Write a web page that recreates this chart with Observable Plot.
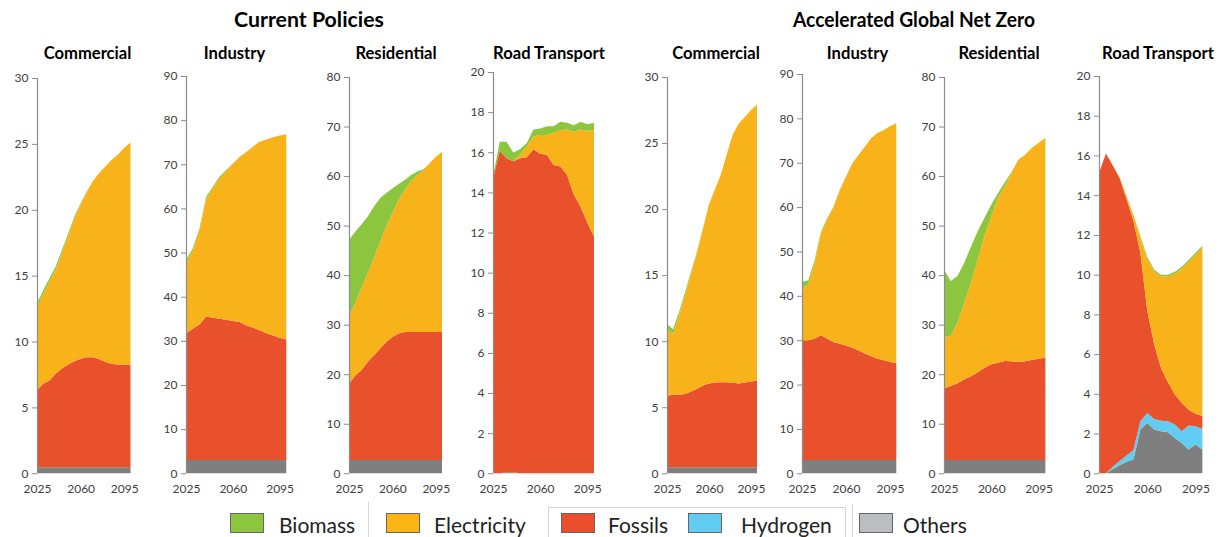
<!DOCTYPE html>
<html><head><meta charset="utf-8">
<script src="https://cdn.jsdelivr.net/npm/d3@7"></script>
<script src="https://cdn.jsdelivr.net/npm/@observablehq/plot@0.6"></script>
<style>
body{margin:0;background:#fff;}
#root{position:relative;width:1221px;height:537px;overflow:hidden;background:#fff;font-family:Lato,"Open Sans",sans-serif;}
.abs{position:absolute;}
.scen{font-weight:700;font-size:21px;color:#000;white-space:nowrap;}
.ptitle{font-weight:700;font-size:16.6px;color:#000;transform:translate(-50%,-50%);white-space:nowrap;}
.lbox{border:1px solid #666;box-sizing:border-box;}
.ltext{font-size:21px;color:#222;transform:translateY(-50%);white-space:nowrap;}
.sep{background:#d4d4d4;}
</style></head><body><div id="root"></div>
<script>
// ---------------- data ----------------
const years = [2025,2030,2035,2040,2045,2050,2055,2060,2065,2070,2075,2080,2085,2090,2095,2100];
const scenarioTitles = ["Current Policies", "Accelerated Global Net Zero"];
const panelTitles = ["Commercial","Industry","Residential","Road Transport","Commercial","Industry","Residential","Road Transport"];
const seriesNames = ["Biomass","Electricity","Fossils","Hydrogen","Others"];
const stackOrder = ["Others","Hydrogen","Fossils","Electricity","Biomass"];
const yMax = [30,90,80,20,30,90,80,20];
const yStep = [5,10,10,2,5,10,10,2];
const xTicks = [2025,2060,2095];

// Current Policies - Commercial
const cpComOthers   = [0.45,0.45,0.45,0.45,0.45,0.45,0.45,0.45,0.45,0.45,0.45,0.45,0.45,0.45,0.45,0.45];
const cpComFossils  = [5.85,6.35,6.6,7.1,7.5,7.8,8.05,8.25,8.35,8.35,8.2,8.0,7.85,7.8,7.8,7.75];
const cpComElec     = [6.3,6.8,7.5,7.9,8.8,9.75,10.85,11.7,12.55,13.4,14.15,14.85,15.5,15.95,16.45,16.9];
const cpComBiomass  = [0.3,0.3,0.25,0.25,0.2,0.2,0.15,0.1,0.05,0,0,0,0,0,0,0];
// Current Policies - Industry
const cpIndOthers   = [3,3,3,3,3,3,3,3,3,3,3,3,3,3,3,3];
const cpIndFossils  = [28.6,29.75,30.7,32.5,32.25,32.0,31.8,31.5,31.3,30.5,30.0,29.4,28.8,28.2,27.7,27.3];
const cpIndElec     = [16.1,17.55,21.2,26.6,29.25,31.8,33.6,35.5,37.3,39.25,41.0,42.7,43.8,44.9,45.8,46.5];
const cpIndBiomass  = [0.6,0.6,0.5,0.5,0.4,0.4,0.3,0.2,0.1,0.05,0,0,0,0,0,0];
// Current Policies - Residential
const cpResOthers   = [2.7,2.7,2.7,2.7,2.7,2.7,2.7,2.7,2.7,2.7,2.7,2.7,2.7,2.7,2.7,2.7];
const cpResFossils  = [15.4,17.05,18.1,19.75,21.1,22.45,23.8,24.8,25.5,25.8,25.8,25.8,25.8,25.8,25.8,25.8];
const cpResElec     = [13.6,14.55,16.5,17.85,19.6,21.55,23.3,25.0,27.0,28.7,30.4,31.7,32.7,34.1,35.4,36.4];
const cpResBiomass  = [15.4,14.45,12.9,11.5,10.4,8.8,6.8,5.0,3.2,2.0,1.3,0.7,0.2,0,0,0];
// Current Policies - Road Transport
const cpRoadOthers  = [0,0,0.05,0.05,0,0,0,0,0,0,0,0,0,0,0,0];
const cpRoadFossils = [14.7,16.08,15.65,15.5,15.7,15.75,16.15,15.92,15.87,15.37,15.29,14.88,13.9,13.3,12.5,11.8];
const cpRoadElec    = [0,0,0,0,0.17,0.53,0.63,0.94,0.99,1.6,1.81,2.26,3.12,3.84,4.57,5.3];
const cpRoadBiomass = [0.1,0.45,0.83,0.44,0.28,0.17,0.36,0.33,0.44,0.33,0.42,0.33,0.33,0.38,0.33,0.37];
// Accelerated Global Net Zero - Commercial
const nzComOthers   = [0.45,0.45,0.45,0.45,0.45,0.45,0.45,0.45,0.45,0.45,0.45,0.45,0.45,0.45,0.45,0.45];
const nzComFossils  = [5.42,5.5,5.5,5.55,5.75,5.95,6.2,6.35,6.43,6.45,6.45,6.4,6.35,6.43,6.5,6.55];
const nzComElec     = [5.08,4.6,6.0,7.5,8.9,10.3,11.87,13.56,14.62,15.75,17.3,18.85,19.7,20.12,20.55,20.9];
const nzComBiomass  = [0.35,0.35,0.25,0.2,0.15,0.1,0.05,0,0,0,0,0,0,0,0,0];
// Accelerated Global Net Zero - Industry
const nzIndOthers   = [3,3,3,3,3,3,3,3,3,3,3,3,3,3,3,3];
const nzIndFossils  = [27.0,27.0,27.3,28.1,27.3,26.6,26.2,25.8,25.3,24.7,24.0,23.4,22.8,22.5,22.1,21.8];
const nzIndElec     = [11.9,12.5,17.1,22.9,26.9,30.3,34.55,38.0,41.55,44.1,46.6,49.1,50.9,51.9,53.1,54.1];
const nzIndBiomass  = [1.2,1.0,0.6,0.4,0.3,0.2,0.15,0.1,0.05,0,0,0,0,0,0,0];
// Accelerated Global Net Zero - Residential
const nzResOthers   = [2.7,2.7,2.7,2.7,2.7,2.7,2.7,2.7,2.7,2.7,2.7,2.7,2.7,2.7,2.7,2.7];
const nzResFossils  = [14.4,14.9,15.45,16.26,16.9,17.7,18.6,19.3,19.6,19.95,19.9,19.75,19.9,20.15,20.4,20.6];
const nzResElec     = [10.5,10.1,12.25,15.44,18.85,22.8,26.6,29.9,33.3,35.3,38.0,40.85,41.7,42.85,43.6,44.4];
const nzResBiomass  = [13.5,11.1,9.4,8.1,7.35,5.7,3.7,2.35,1.0,0.8,0.2,0,0,0,0,0];
// Accelerated Global Net Zero - Road Transport
const nzRoadOthers   = [0,0,0.2,0.4,0.58,0.7,2.2,2.53,2.2,2.12,2.07,1.78,1.53,1.2,1.45,1.2];
const nzRoadHydrogen = [0,0,0.13,0.22,0.32,0.47,0.42,0.5,0.53,0.53,0.55,0.67,0.59,1.2,0.92,1.03];
const nzRoadFossils  = [15.1,16.1,15.17,14.23,12.9,11.53,8.48,5.17,3.77,2.65,1.98,1.52,1.43,0.8,0.63,0.65];
const nzRoadElec     = [0,0,0,0.05,0.15,0.3,0.8,2.6,3.64,4.6,5.3,6.08,6.75,7.45,8.0,8.47];
const nzRoadBiomass  = [0,0,0,0,0,0,0.05,0.1,0.1,0.1,0.1,0.1,0.1,0.1,0.1,0.1];

const panelSeries = [
  {Others:cpComOthers, Fossils:cpComFossils, Electricity:cpComElec, Biomass:cpComBiomass},
  {Others:cpIndOthers, Fossils:cpIndFossils, Electricity:cpIndElec, Biomass:cpIndBiomass},
  {Others:cpResOthers, Fossils:cpResFossils, Electricity:cpResElec, Biomass:cpResBiomass},
  {Others:cpRoadOthers, Fossils:cpRoadFossils, Electricity:cpRoadElec, Biomass:cpRoadBiomass},
  {Others:nzComOthers, Fossils:nzComFossils, Electricity:nzComElec, Biomass:nzComBiomass},
  {Others:nzIndOthers, Fossils:nzIndFossils, Electricity:nzIndElec, Biomass:nzIndBiomass},
  {Others:nzResOthers, Fossils:nzResFossils, Electricity:nzResElec, Biomass:nzResBiomass},
  {Others:nzRoadOthers, Hydrogen:nzRoadHydrogen, Fossils:nzRoadFossils, Electricity:nzRoadElec, Biomass:nzRoadBiomass}
];

// ---------------- styles / layout ----------------
const areaColors   = ["#8cc63f","#f9b31a","#e8512b","#62cdf3","#7f7f7f"];
const legendColors = ["#8cc63f","#fdb515","#ea4e2c","#62cdf3","#bcbdc0"];
const axisX = [36.5,185.7,349.3,493.3,667.3,801.7,944.3,1099.3];
const endX  = [130,286,442.3,594.3,757.3,896,1045.7,1202.7];
const topY  = [78,76,77,72,77,74,77,76];
const zeroY = 473.3;
const titleX = [87.5,234.5,396,549,716,857.5,999,1158];
const scenLeft = [234,793];
const scenWidth = [150,242];
const legendBoxX = [230,386,561,688,859];
const legendTextX = [279,434,608,741,903];

const root = document.getElementById("root");
function addDiv(cls, css, text){
  const d = document.createElement("div");
  d.className = "abs " + cls;
  Object.assign(d.style, css);
  if (text != null) d.textContent = text;
  root.appendChild(d);
  return d;
}

scenarioTitles.forEach((t,i)=> {
  const d = addDiv("scen", {left: scenLeft[i]+"px", top: "18px"}, t);
  const w = d.getBoundingClientRect().width;
  d.style.transformOrigin = "0 50%";
  d.style.transform = `translateY(-50%) scaleX(${scenWidth[i] / w})`;
});

const H = 500, ML = 40, MR = 8;
panelSeries.forEach((s, i) => {
  const rows = [];
  stackOrder.forEach(name => {
    const arr = s[name];
    if (!arr) return;
    years.forEach((y,k) => rows.push({year: y, series: name, value: arr[k]}));
  });
  const ticks = d3.range(0, yMax[i] + 1e-9, yStep[i]);
  const W = endX[i] - axisX[i] + ML + MR;
  const svg = Plot.plot({
    width: W, height: H,
    marginLeft: ML, marginRight: MR, marginTop: topY[i], marginBottom: H - zeroY,
    style: {fontFamily: "Lato, 'Open Sans', sans-serif", fontSize: "12px", color: "#404040", background: "transparent", overflow: "visible"},
    x: {domain: [2025, 2100], axis: null},
    y: {domain: [0, yMax[i]], axis: null},
    color: {domain: seriesNames, range: areaColors},
    marks: [
      Plot.areaY(rows, {x: "year", y: "value", fill: "series", z: "series", order: stackOrder, curve: "linear"}),
      Plot.ruleX([2025], {y1: 0, y2: yMax[i], stroke: "#8c8c8c", strokeWidth: 1.2}),
      Plot.axisY({ticks, label: null, tickSize: 5, tickPadding: 4, stroke: "#8c8c8c", fill: "#404040"}),
      Plot.axisX({ticks: xTicks, label: null, tickSize: 0, tickPadding: 11, tickFormat: d => String(d), fill: "#404040"})
    ]
  });
  svg.style.position = "absolute";
  svg.style.left = (axisX[i] - ML) + "px";
  svg.style.top = "0px";
  svg.style.maxWidth = "none";
  root.appendChild(svg);
  addDiv("ptitle", {left: titleX[i]+"px", top: "53px"}, panelTitles[i]);
});

// legend frame lines
addDiv("sep", {left:"368px", top:"502px", width:"1px", height:"35px"});
addDiv("sep", {left:"852px", top:"504px", width:"1px", height:"33px"});
addDiv("", {left:"548px", top:"507px", width:"298px", height:"40px", border:"1px solid #d4d4d4", boxSizing:"border-box"});

seriesNames.forEach((n,i) => {
  addDiv("lbox", {left: legendBoxX[i]+"px", top: "513px", width: "34px", height: "20px", background: legendColors[i]});
  addDiv("ltext", {left: legendTextX[i]+"px", top: "524px"}, n);
});
</script></body></html>
